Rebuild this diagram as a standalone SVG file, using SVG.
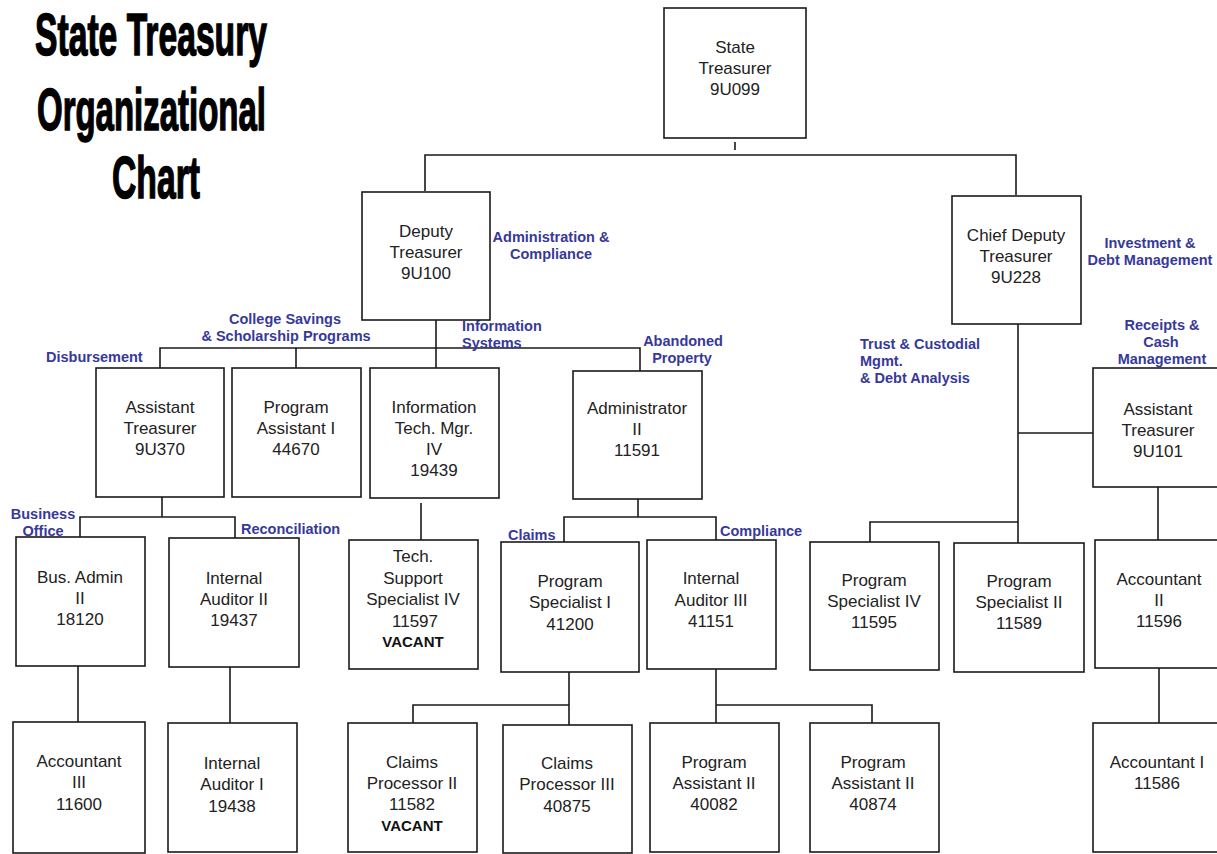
<svg xmlns="http://www.w3.org/2000/svg" width="1217" height="854" viewBox="0 0 1217 854">
<style>
.box{fill:#fff;stroke:#1a1a1a;stroke-width:1.6}
.t{font-family:"Liberation Sans",Arial,sans-serif;font-size:17px;fill:#222;text-anchor:middle}
.v{font-family:"Liberation Sans",Arial,sans-serif;font-size:15px;font-weight:bold;fill:#111;text-anchor:middle}
.lb{font-family:"Liberation Sans",Arial,sans-serif;font-size:14.5px;font-weight:bold;fill:#36399a}
.c{text-anchor:middle}
.ttl{font-family:"Liberation Sans",Arial,sans-serif;font-size:60px;font-weight:bold;fill:#000;stroke:#000;stroke-width:1.5}
#connectors path{fill:none;stroke:#1a1a1a;stroke-width:1.6}
</style>
<rect width="1217" height="854" fill="#fff"/>
<g id="title">
<text class="ttl" x="35" y="55" textLength="232" lengthAdjust="spacingAndGlyphs">State Treasury</text>
<text class="ttl" x="37" y="130" textLength="229" lengthAdjust="spacingAndGlyphs">Organizational</text>
<text class="ttl" x="112" y="198" textLength="88" lengthAdjust="spacingAndGlyphs">Chart</text>
</g>
<g id="connectors">
<path d="M735 142V150"/>
<path d="M425 191V155H1016V195"/>
<path d="M436 320V368"/>
<path d="M160 368V348H640V371"/>
<path d="M296 348V368"/>
<path d="M162 497V517"/>
<path d="M80 537V517H235V538"/>
<path d="M78 666V722"/>
<path d="M230 667V723"/>
<path d="M421 503V540"/>
<path d="M638 499V517"/>
<path d="M564 542V517H716V540"/>
<path d="M569 672V725"/>
<path d="M413 723V705H569"/>
<path d="M716 669V723"/>
<path d="M716 705H872V723"/>
<path d="M1018 324V543"/>
<path d="M1018 433H1093"/>
<path d="M870 542V522H1018"/>
<path d="M1158 487V540"/>
<path d="M1159 668V723"/>
</g>
<g id="labels">
<text class="lb c" x="551" y="242">Administration &amp;</text>
<text class="lb c" x="551" y="259">Compliance</text>
<text class="lb c" x="1150" y="248">Investment &amp;</text>
<text class="lb c" x="1150" y="265">Debt Management</text>
<text class="lb c" x="285" y="324">College Savings</text>
<text class="lb c" x="286" y="341">&amp; Scholarship Programs</text>
<text class="lb" x="46" y="362">Disbursement</text>
<text class="lb" x="462" y="331">Information</text>
<text class="lb" x="462" y="348">Systems</text>
<text class="lb c" x="683" y="346">Abandoned</text>
<text class="lb c" x="682" y="363">Property</text>
<text class="lb" x="860" y="349">Trust &amp; Custodial</text>
<text class="lb" x="860" y="366">Mgmt.</text>
<text class="lb" x="860" y="383">&amp; Debt Analysis</text>
<text class="lb c" x="1162" y="330">Receipts &amp;</text>
<text class="lb c" x="1161" y="347">Cash</text>
<text class="lb c" x="1162" y="364">Management</text>
<text class="lb c" x="43" y="519">Business</text>
<text class="lb c" x="43" y="536">Office</text>
<text class="lb" x="241" y="534">Reconciliation</text>
<text class="lb" x="508" y="540">Claims</text>
<text class="lb" x="720" y="536">Compliance</text>
</g>
<g id="n-state-treasurer"><rect class="box" x="664" y="8" width="142" height="130"/>
<text class="t" x="735" y="53">State</text><text class="t" x="735" y="74">Treasurer</text><text class="t" x="735" y="95">9U099</text></g>
<g id="n-deputy"><rect class="box" x="362" y="192" width="128" height="128"/>
<text class="t" x="426" y="237">Deputy</text><text class="t" x="426" y="258">Treasurer</text><text class="t" x="426" y="279">9U100</text></g>
<g id="n-chief-deputy"><rect class="box" x="952" y="196" width="129" height="128"/>
<text class="t" x="1016" y="241">Chief Deputy</text><text class="t" x="1016" y="262">Treasurer</text><text class="t" x="1016" y="283">9U228</text></g>
<g id="n-9u370"><rect class="box" x="96" y="368" width="128" height="129"/>
<text class="t" x="160" y="413">Assistant</text><text class="t" x="160" y="434">Treasurer</text><text class="t" x="160" y="455">9U370</text></g>
<g id="n-44670"><rect class="box" x="232" y="368" width="129" height="129"/>
<text class="t" x="296" y="413">Program</text><text class="t" x="296" y="434">Assistant I</text><text class="t" x="296" y="455">44670</text></g>
<g id="n-19439"><rect class="box" x="370" y="368" width="129" height="130"/>
<text class="t" x="434" y="413">Information</text><text class="t" x="434" y="434">Tech. Mgr.</text><text class="t" x="434" y="455">IV</text><text class="t" x="434" y="476">19439</text></g>
<g id="n-11591"><rect class="box" x="573" y="371" width="129" height="128"/>
<text class="t" x="637" y="414">Administrator</text><text class="t" x="637" y="435">II</text><text class="t" x="637" y="456">11591</text></g>
<g id="n-9u101"><rect class="box" x="1093" y="368" width="131" height="119"/>
<text class="t" x="1158" y="415">Assistant</text><text class="t" x="1158" y="436">Treasurer</text><text class="t" x="1158" y="457">9U101</text></g>
<g id="n-18120"><rect class="box" x="16" y="537" width="129" height="129"/>
<text class="t" x="80" y="583">Bus. Admin</text><text class="t" x="80" y="604">II</text><text class="t" x="80" y="625">18120</text></g>
<g id="n-19437"><rect class="box" x="169" y="538" width="130" height="129"/>
<text class="t" x="234" y="584">Internal</text><text class="t" x="234" y="605">Auditor II</text><text class="t" x="234" y="626">19437</text></g>
<g id="n-11597"><rect class="box" x="349" y="540" width="129" height="129"/>
<text class="t" x="413" y="562">Tech.</text><text class="t" x="413" y="584">Support</text><text class="t" x="413" y="605">Specialist IV</text><text class="t" x="415" y="627">11597</text><text class="v" x="413" y="647">VACANT</text></g>
<g id="n-41200"><rect class="box" x="501" y="542" width="138" height="130"/>
<text class="t" x="570" y="587">Program</text><text class="t" x="570" y="608">Specialist I</text><text class="t" x="570" y="630">41200</text></g>
<g id="n-41151"><rect class="box" x="647" y="540" width="129" height="129"/>
<text class="t" x="711" y="584">Internal</text><text class="t" x="711" y="606">Auditor III</text><text class="t" x="711" y="627">41151</text></g>
<g id="n-11595"><rect class="box" x="810" y="542" width="129" height="128"/>
<text class="t" x="874" y="586">Program</text><text class="t" x="874" y="607">Specialist IV</text><text class="t" x="874" y="628">11595</text></g>
<g id="n-11589"><rect class="box" x="954" y="543" width="130" height="129"/>
<text class="t" x="1019" y="587">Program</text><text class="t" x="1019" y="608">Specialist II</text><text class="t" x="1019" y="629">11589</text></g>
<g id="n-11596"><rect class="box" x="1095" y="540" width="129" height="128"/>
<text class="t" x="1159" y="585">Accountant</text><text class="t" x="1159" y="606">II</text><text class="t" x="1159" y="627">11596</text></g>
<g id="n-11600"><rect class="box" x="13" y="722" width="132" height="131"/>
<text class="t" x="79" y="767">Accountant</text><text class="t" x="79" y="788">III</text><text class="t" x="79" y="810">11600</text></g>
<g id="n-19438"><rect class="box" x="168" y="723" width="129" height="129"/>
<text class="t" x="232" y="769">Internal</text><text class="t" x="232" y="790">Auditor I</text><text class="t" x="232" y="812">19438</text></g>
<g id="n-11582"><rect class="box" x="348" y="723" width="129" height="129"/>
<text class="t" x="412" y="768">Claims</text><text class="t" x="412" y="789">Processor II</text><text class="t" x="412" y="810">11582</text><text class="v" x="412" y="831">VACANT</text></g>
<g id="n-40875"><rect class="box" x="503" y="725" width="129" height="128"/>
<text class="t" x="567" y="769">Claims</text><text class="t" x="567" y="790">Processor III</text><text class="t" x="567" y="812">40875</text></g>
<g id="n-40082"><rect class="box" x="650" y="723" width="129" height="129"/>
<text class="t" x="714" y="768">Program</text><text class="t" x="714" y="789">Assistant II</text><text class="t" x="714" y="810">40082</text></g>
<g id="n-40874"><rect class="box" x="810" y="723" width="129" height="129"/>
<text class="t" x="873" y="768">Program</text><text class="t" x="873" y="789">Assistant II</text><text class="t" x="873" y="810">40874</text></g>
<g id="n-11586"><rect class="box" x="1093" y="723" width="131" height="129"/>
<text class="t" x="1157" y="768">Accountant I</text><text class="t" x="1157" y="789">11586</text></g>
</svg>
